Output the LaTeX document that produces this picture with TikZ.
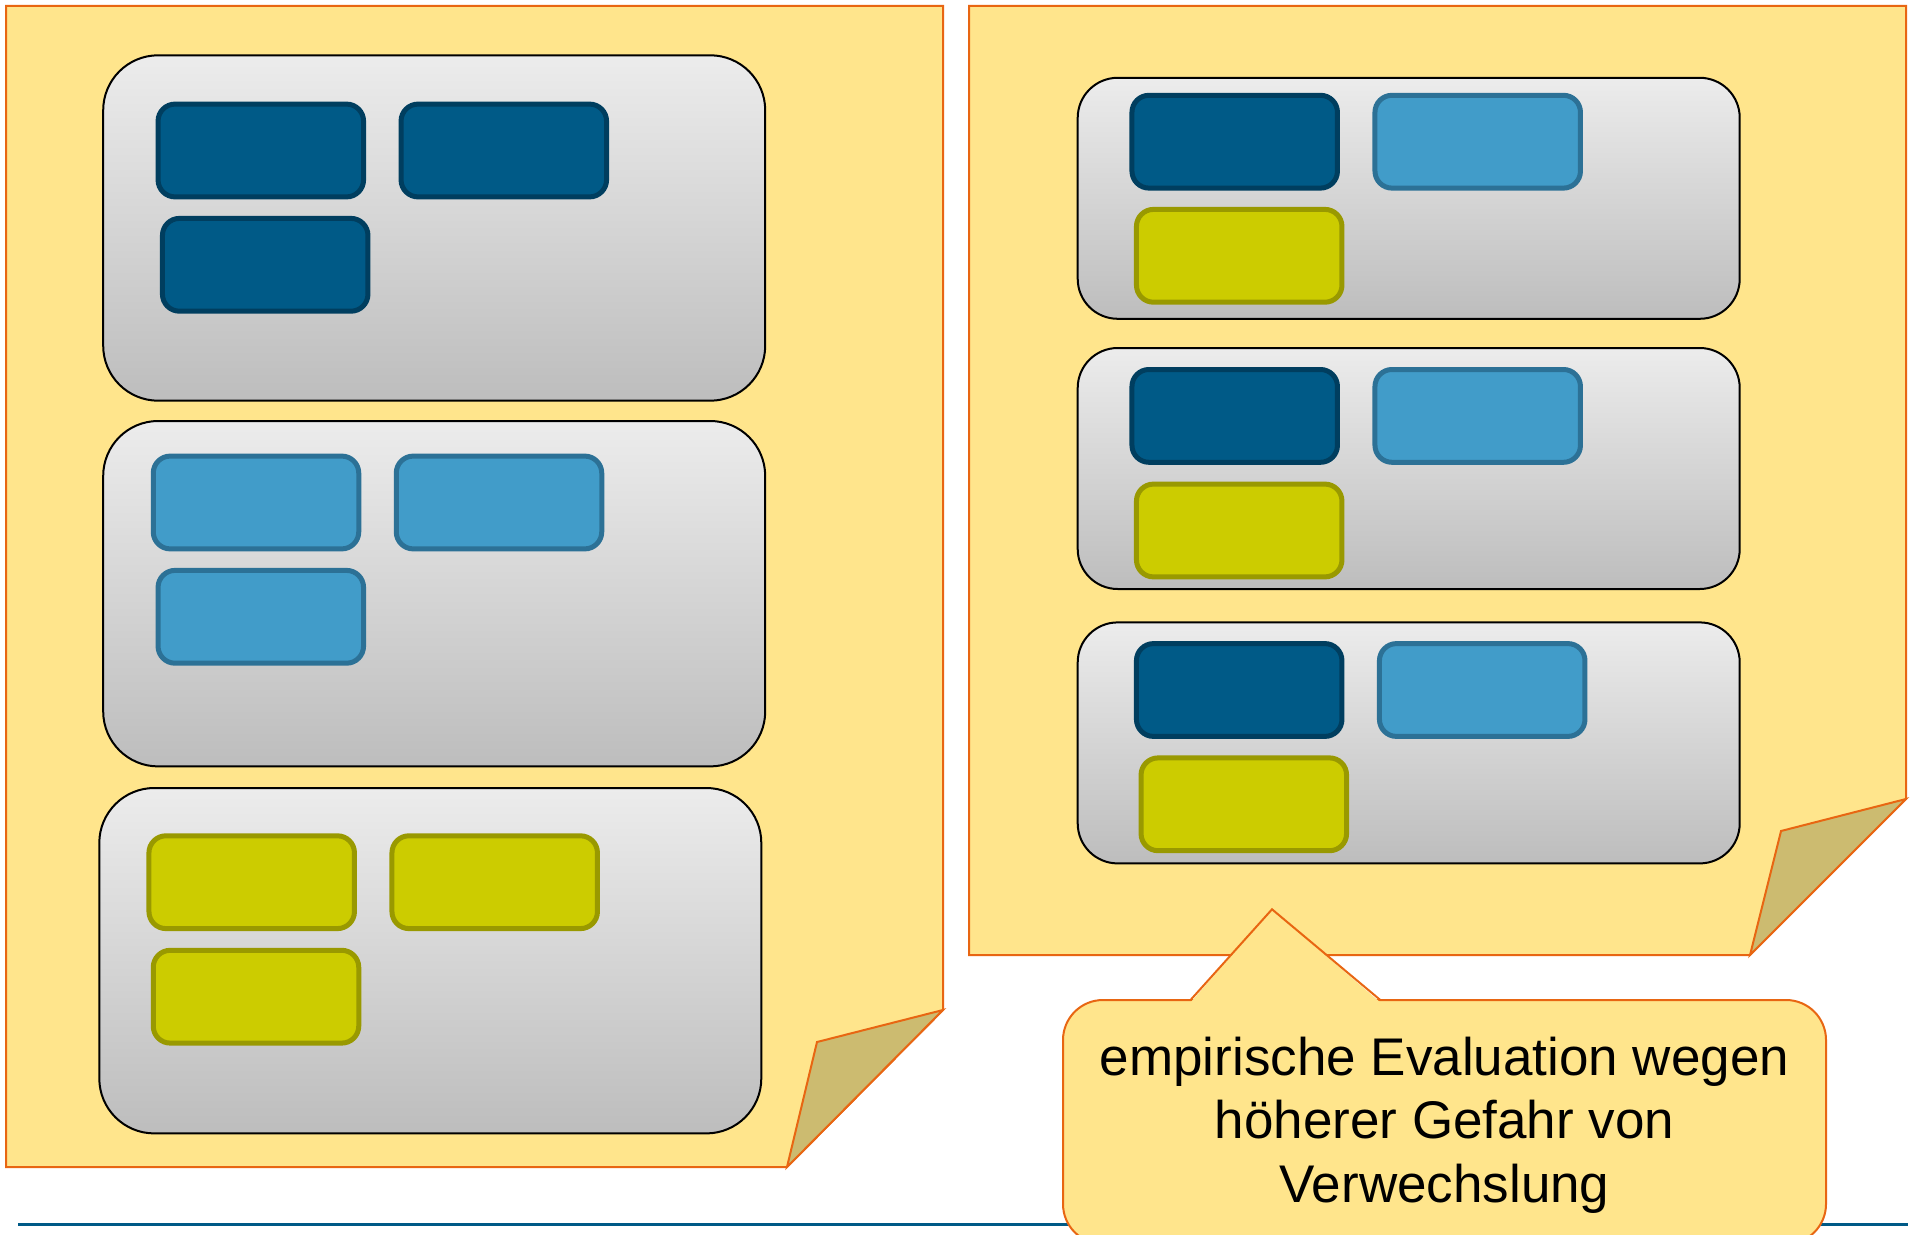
\documentclass[tikz,border=0pt]{standalone}
\usepackage{fontspec}
\setmainfont{Liberation Sans}
\definecolor{notefill}{RGB}{255,229,140}
\definecolor{noteline}{RGB}{232,102,18}
\definecolor{earfill}{RGB}{204,187,112}
\definecolor{paneltop}{RGB}{236,236,236}
\definecolor{panelbot}{RGB}{189,189,189}
\definecolor{darkfill}{RGB}{0,90,135}
\definecolor{darkline}{RGB}{0,62,95}
\definecolor{lightfill}{RGB}{65,156,201}
\definecolor{lightline}{RGB}{44,113,150}
\definecolor{yellowfill}{RGB}{204,204,0}
\definecolor{yellowline}{RGB}{153,153,0}
\definecolor{rulecolor}{RGB}{0,90,135}
\begin{document}
\begin{tikzpicture}[x=0.5pt,y=-0.5pt,
  notepaper/.style={fill=notefill, draw=noteline, line width=1pt, line join=miter},
  earflap/.style={fill=earfill, draw=noteline, line width=1pt, line join=miter},
  panel/.style={rectangle, draw=black, line width=1pt, top color=paneltop,
    bottom color=panelbot, inner sep=0pt, outer sep=0pt},
  tallpanel/.style={panel, minimum width=331pt, minimum height=172.7pt, rounded corners=27.5pt},
  flatpanel/.style={panel, minimum width=331pt, minimum height=120.5pt, rounded corners=20pt},
  chip/.style={rectangle, rounded corners=8.5pt, line width=2.5pt,
    minimum width=102.75pt, minimum height=46.4pt, inner sep=0pt, outer sep=0pt},
  darkchip/.style={chip, fill=darkfill, draw=darkline},
  lightchip/.style={chip, fill=lightfill, draw=lightline},
  yellowchip/.style={chip, fill=yellowfill, draw=yellowline},
  bubble/.style={fill=notefill, draw=noteline, line width=1pt},
  bubbletext/.style={font=\fontsize{26.5pt}{31.75pt}\selectfont, align=center, inner sep=0pt},
  rule/.style={draw=rulecolor, line width=1.5pt}
]
\useasboundingbox (0,0) rectangle (1914,1235);
\clip (0,0) rectangle (1914,1235);
\fill[white] (0,0) rectangle (1914,1235);

% horizontal rule along the bottom
\coordinate (ruleL) at (18,1224);
\coordinate (ruleR) at (1908,1224);
\draw[rule] (ruleL) -- (ruleR);

% left sheet with folded corner
\draw[notepaper] (6,6) -- (943,6) -- (943,1010) -- (787,1167) -- (6,1167) -- cycle;
\draw[earflap] (943,1010) -- (817,1042) -- (787,1167) -- cycle;

% right sheet with folded corner
\draw[notepaper] (969,6) -- (1906,6) -- (1906,799) -- (1750,955) -- (969,955) -- cycle;
\draw[earflap] (1906,799) -- (1781,831) -- (1750,955) -- cycle;

% left sheet: three groups of one colour each
\node[tallpanel] (lp1) at (434.2,228) {};
\node[tallpanel] (lp2) at (434.2,593.7) {};
\node[tallpanel] (lp3) at (430.3,960.7) {};

\node[darkchip] (l1a) at (260.8,150.5) {};
\node[darkchip] (l1b) at (503.8,150.5) {};
\node[darkchip] (l1c) at (265.2,264.8) {};

\node[lightchip] (l2a) at (256,502.5) {};
\node[lightchip] (l2b) at (499,502.5) {};
\node[lightchip] (l2c) at (260.8,616.8) {};

\node[yellowchip] (l3a) at (251.7,882.2) {};
\node[yellowchip] (l3b) at (494.7,882.2) {};
\node[yellowchip] (l3c) at (256,996.7) {};

% right sheet: three mixed groups
\node[flatpanel] (rp1) at (1408.7,198.3) {};
\node[flatpanel] (rp2) at (1408.7,468.5) {};
\node[flatpanel] (rp3) at (1408.7,742.9) {};

\node[darkchip] (r1a) at (1234.7,141.7) {};
\node[lightchip] (r1b) at (1477.7,141.7) {};
\node[yellowchip] (r1c) at (1239.2,255.8) {};

\node[darkchip] (r2a) at (1234.7,415.9) {};
\node[lightchip] (r2b) at (1477.7,415.9) {};
\node[yellowchip] (r2c) at (1239.2,530.5) {};

\node[darkchip] (r3a) at (1239.2,690) {};
\node[lightchip] (r3b) at (1482.2,690) {};
\node[yellowchip] (r3c) at (1243.8,804.3) {};

% speech bubble pointing at the right sheet
\node[bubble, rectangle, rounded corners=20pt, minimum width=381.5pt,
  minimum height=122pt, inner sep=0pt] (bub) at (1444.5,1122) {};
\coordinate (tipL) at (1190.5,1000);
\coordinate (tip) at (1272,909.3);
\coordinate (tipR) at (1380.3,1000);
\fill[notefill] ([yshift=-1.2pt]tipL) -- (tip) -- ([yshift=-1.2pt]tipR) -- cycle;
\draw[noteline, line width=1pt, line join=miter] (tipL) -- (tip) -- (tipR);

\node[bubbletext] (msg) at (1444.5,1125)
  {empirische Evaluation wegen\\höherer Gefahr von\\Verwechslung};
\end{tikzpicture}
\end{document}
